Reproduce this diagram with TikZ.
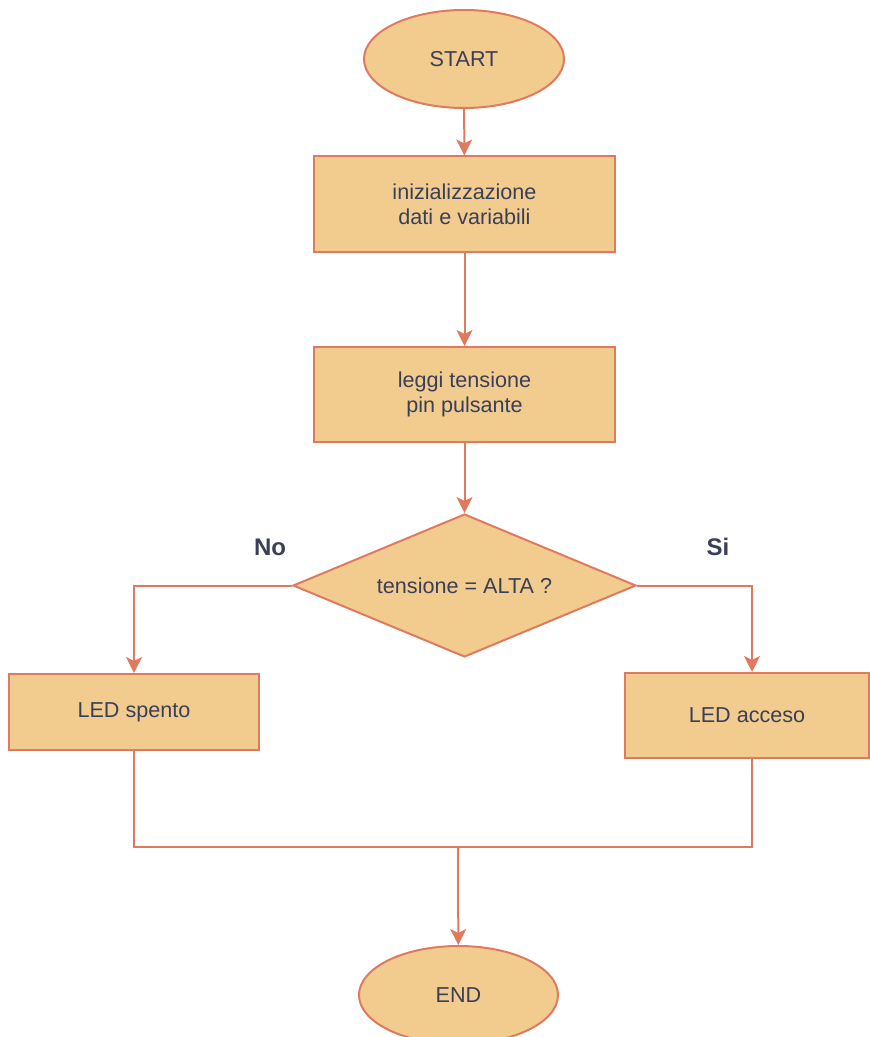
\documentclass[tikz,border=0pt]{standalone}
\usepackage{fontspec}
\setmainfont{Liberation Sans}
\usetikzlibrary{arrows.meta, positioning, shapes.geometric}
\definecolor{flowFill}{HTML}{F2CC8F}
\definecolor{flowLine}{HTML}{E07A5F}
\definecolor{textDark}{HTML}{3A3F58}

\begin{document}
\begin{tikzpicture}[x=0.5pt, y=-0.5pt,
        terminal/.style={ellipse, fill=flowFill, draw=flowLine, line width=1pt,
          minimum width=100pt, minimum height=49pt,
          font=\fontsize{10.8}{12.5}\selectfont, text=textDark},
        process/.style={rectangle, fill=flowFill, draw=flowLine, line width=1pt,
          minimum width=150.5pt, minimum height=48pt, align=center,
          font=\fontsize{10.8}{12.5}\selectfont, text=textDark},
        decision/.style={diamond, fill=flowFill, draw=flowLine, line width=1pt,
          minimum width=171.5pt, minimum height=71.5pt, aspect=2.4, inner sep=1pt,
          font=\fontsize{10.8}{12.5}\selectfont, text=textDark},
        branch/.style={font=\fontsize{12}{14}\selectfont\bfseries, text=textDark},
        flow/.style={draw=flowLine, line width=1pt,
          -{Stealth[length=8pt, width=8pt, inset=2pt]}},
        mergeline/.style={draw=flowLine, line width=1pt}
      ]
        \useasboundingbox (0,0) rectangle (870,1037);

        \node[terminal] (start) at (464,59) {START};
        \node[process]  (init)  at (464.5,204.5) {inizializzazione\\dati e variabili};
        \node[process, minimum height=47.5pt] (read) at (464.5,394.5) {leggi tensione\\pin pulsante};
        \node[decision] (check) at (464.5,585.5) {tensione = ALTA ?};
        \node[process, minimum width=125pt, minimum height=38pt] (ledoff) at (134,712) {LED spento};
        \node[process, minimum width=122pt, minimum height=42.5pt] (ledon) at (747,715.5) {LED acceso};
        \node[terminal, minimum width=99.5pt] (end) at (458.5,995) {END};

        \node[branch] (nolbl) at (270,547) {No};
        \node[branch] (silbl) at (718,547) {Si};

        \coordinate (merge) at (458,847);

        \draw[flow] (start) -- (init);
        \draw[flow] (init) -- (read);
        \draw[flow] (read) -- (check);
        \draw[flow] (check.west) -| (ledoff.north);
        \draw[flow] (check.east) -| ([xshift=2.5pt]ledon.north);
        \draw[mergeline] (ledoff.south) |- (merge);
        \draw[mergeline] ([xshift=2.5pt]ledon.south) |- (merge);
        \draw[flow] (merge) -- (end);
      \end{tikzpicture}
\end{document}
